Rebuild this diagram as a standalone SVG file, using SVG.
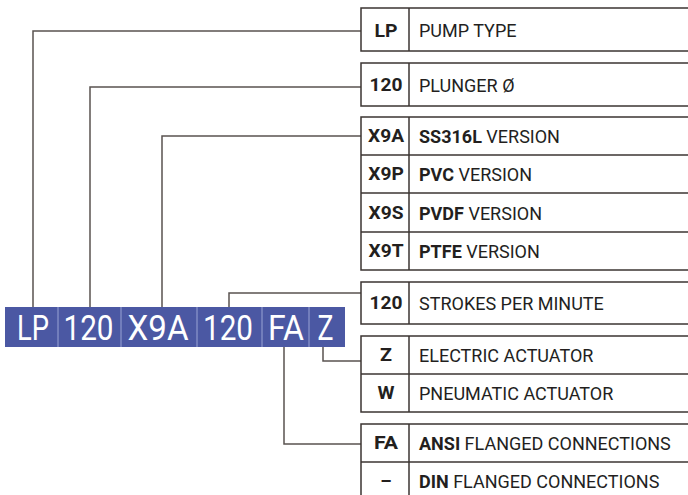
<svg xmlns="http://www.w3.org/2000/svg" width="688" height="495" viewBox="0 0 688 495">
<style>
.bx{fill:#fff;stroke:#3b3432;stroke-width:1.5}
.ln{fill:none;stroke:#3b3432;stroke-width:1.5}
.cn{fill:none;stroke:#5a5350;stroke-width:1.5}
.code{font-family:Roboto,"Liberation Sans",sans-serif;font-weight:bold;font-size:18px;fill:#231f1e;text-anchor:middle}
.desc{font-family:Roboto,"Liberation Sans",sans-serif;font-size:18px;fill:#231f1e}
.desc tspan.b{font-weight:bold}
.bar{font-family:Roboto,"Liberation Sans",sans-serif;font-size:35px;fill:#fff;text-anchor:middle}
.dv{stroke:#9aa3d4;stroke-width:1}
</style>
<g id="code-bar">
<rect x="5" y="307" width="340" height="40" fill="#4b58a3"/>
<line class="dv" x1="58" y1="307" x2="58" y2="347"/>
<line class="dv" x1="121" y1="307" x2="121" y2="347"/>
<line class="dv" x1="197" y1="307" x2="197" y2="347"/>
<line class="dv" x1="262" y1="307" x2="262" y2="347"/>
<line class="dv" x1="309" y1="307" x2="309" y2="347"/>
<text class="bar" x="33" y="340" textLength="32" lengthAdjust="spacingAndGlyphs">LP</text>
<text class="bar" x="88.5" y="340" textLength="50" lengthAdjust="spacingAndGlyphs">120</text>
<text class="bar" x="158" y="340" textLength="61" lengthAdjust="spacingAndGlyphs">X9A</text>
<text class="bar" x="228" y="340" textLength="50" lengthAdjust="spacingAndGlyphs">120</text>
<text class="bar" x="286" y="340" textLength="36" lengthAdjust="spacingAndGlyphs">FA</text>
<text class="bar" x="325.5" y="340" textLength="16" lengthAdjust="spacingAndGlyphs">Z</text>
</g>
<g id="connectors">
<path class="cn" d="M33 307V31H361"/>
<path class="cn" d="M90 307V87H361"/>
<path class="cn" d="M162 307V136H361"/>
<path class="cn" d="M229 307V293H361"/>
<path class="cn" d="M323 347V361H361"/>
<path class="cn" d="M284 347V444H361"/>
</g>
<g id="pump-type">
<rect class="bx" x="361" y="8" width="340" height="43"/>
<line class="ln" x1="409" y1="8" x2="409" y2="51"/>
<text class="code" x="386" y="36.5" textLength="23" lengthAdjust="spacingAndGlyphs">LP</text>
<text class="desc" x="419" y="37">PUMP TYPE</text>
</g>
<g id="plunger">
<rect class="bx" x="361" y="63" width="340" height="43"/>
<line class="ln" x1="409" y1="63" x2="409" y2="106"/>
<text class="code" x="386" y="91" textLength="33" lengthAdjust="spacingAndGlyphs">120</text>
<text class="desc" x="419" y="92">PLUNGER Ø</text>
</g>
<g id="version">
<rect class="bx" x="361" y="117" width="340" height="153"/>
<line class="ln" x1="361" y1="155" x2="701" y2="155"/>
<line class="ln" x1="361" y1="193" x2="701" y2="193"/>
<line class="ln" x1="361" y1="232" x2="701" y2="232"/>
<line class="ln" x1="409" y1="117" x2="409" y2="270"/>
<text class="code" x="386" y="142" textLength="36" lengthAdjust="spacingAndGlyphs">X9A</text>
<text class="desc" x="419" y="143"><tspan class="b">SS316L</tspan> VERSION</text>
<text class="code" x="386" y="180" textLength="35.5" lengthAdjust="spacingAndGlyphs">X9P</text>
<text class="desc" x="419" y="181"><tspan class="b">PVC</tspan> VERSION</text>
<text class="code" x="386" y="218.5" textLength="35" lengthAdjust="spacingAndGlyphs">X9S</text>
<text class="desc" x="419" y="219.5"><tspan class="b">PVDF</tspan> VERSION</text>
<text class="code" x="386" y="257" textLength="35" lengthAdjust="spacingAndGlyphs">X9T</text>
<text class="desc" x="419" y="258"><tspan class="b">PTFE</tspan> VERSION</text>
</g>
<g id="strokes">
<rect class="bx" x="361" y="282" width="340" height="42"/>
<line class="ln" x1="409" y1="282" x2="409" y2="324"/>
<text class="code" x="386" y="308.5" textLength="33" lengthAdjust="spacingAndGlyphs">120</text>
<text class="desc" x="419" y="309.5">STROKES PER MINUTE</text>
</g>
<g id="actuator">
<rect class="bx" x="361" y="336" width="340" height="76"/>
<line class="ln" x1="361" y1="374" x2="701" y2="374"/>
<line class="ln" x1="409" y1="336" x2="409" y2="412"/>
<text class="code" x="386" y="360.5" textLength="12" lengthAdjust="spacingAndGlyphs">Z</text>
<text class="desc" x="419" y="361.5">ELECTRIC ACTUATOR</text>
<text class="code" x="386" y="398.5" textLength="17" lengthAdjust="spacingAndGlyphs">W</text>
<text class="desc" x="419" y="399.5">PNEUMATIC ACTUATOR</text>
</g>
<g id="connections">
<rect class="bx" x="361" y="424" width="340" height="90"/>
<line class="ln" x1="361" y1="462" x2="701" y2="462"/>
<line class="ln" x1="409" y1="424" x2="409" y2="500"/>
<text class="code" x="386" y="449" textLength="24" lengthAdjust="spacingAndGlyphs">FA</text>
<text class="desc" x="419" y="450"><tspan class="b">ANSI</tspan> FLANGED CONNECTIONS</text>
<text class="code" x="386" y="487">–</text>
<text class="desc" x="419" y="488"><tspan class="b">DIN</tspan> FLANGED CONNECTIONS</text>
</g>
</svg>
